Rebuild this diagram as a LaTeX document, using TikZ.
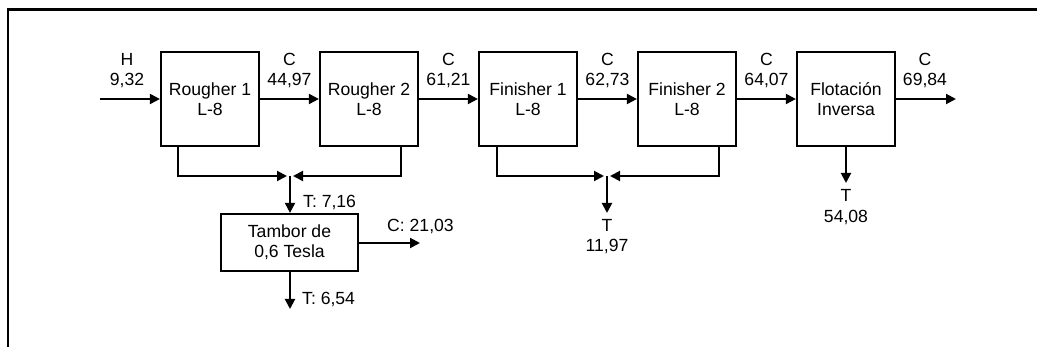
\documentclass[tikz,border=0pt]{standalone}
\usepackage{fontspec}
\setmainfont{Liberation Sans}
\usetikzlibrary{arrows.meta}
\begin{document}
\begin{tikzpicture}[x=1pt,y=-1pt,
  txt/.style={font=\fontsize{17.6}{20.5}\selectfont},
  box/.style={draw, line width=2.2pt, minimum width=98pt, minimum height=94pt, inner sep=0pt, align=center, txt},
  flow/.style={line width=2pt, -{Triangle[length=10pt,width=10pt]}},
  lab/.style={inner sep=0pt, align=center, txt},
]
\useasboundingbox (0,0) rectangle (1037,347);
\draw[line width=2.7pt, line join=miter] (8,347) -- (8,9.5) -- (1037,9.5);

\node[box] (r1) at (210,99) {Rougher 1\\L-8};
\node[box] (r2) at (369,99) {Rougher 2\\L-8};
\node[box] (f1) at (528,99) {Finisher 1\\L-8};
\node[box] (f2) at (687,99) {Finisher 2\\L-8};
\node[box] (fl) at (846,99) {Flotación\\Inversa};
\node[box, minimum width=137pt, minimum height=57pt] (tam) at (289.5,242.5) {Tambor de\\0,6 Tesla};

\coordinate (in) at (100,99);
\coordinate (out) at (956,99);
\coordinate (j1) at (290,176);
\coordinate (j2) at (607,176);
\coordinate (tc) at (420,243);
\coordinate (tt) at (290,309);
\coordinate (t2) at (607,213);
\coordinate (t3) at (846,183);

\draw[flow] (in) -- (r1.west);
\draw[flow] (r1.east) -- (r2.west);
\draw[flow] (r2.east) -- (f1.west);
\draw[flow] (f1.east) -- (f2.west);
\draw[flow] (f2.east) -- (fl.west);
\draw[flow] (fl.east) -- (out);

\draw[flow] ([xshift=18pt]r1.south west) |- ([xshift=-3pt]j1);
\draw[flow] ([xshift=-18pt]r2.south east) |- ([xshift=3pt]j1);
\draw[flow] (j1) -- (j1 |- tam.north);
\draw[flow] (tam.east |- tc) -- (tc);
\draw[flow] (tt |- tam.south) -- (tt);

\draw[flow] ([xshift=19pt]f1.south west) |- ([xshift=-3pt]j2);
\draw[flow] ([xshift=-18pt]f2.south east) |- ([xshift=3pt]j2);
\draw[flow] (j2) -- (t2);
\draw[flow] (fl.south) -- (t3);

\node[lab] (lh) at (127,70.5) {H\\9,32};
\node[lab] (l1) at (289.5,70.5) {C\\44,97};
\node[lab] (l2) at (448.5,70.5) {C\\61,21};
\node[lab] (l3) at (607.5,70.5) {C\\62,73};
\node[lab] (l4) at (766.5,70.5) {C\\64,07};
\node[lab] (l5) at (925,70.5) {C\\69,84};
\node[lab, anchor=west] (lt1) at (303,202) {T: 7,16};
\node[lab] (lc) at (420.5,226) {C: 21,03};
\node[lab, anchor=west] (lt2) at (302,299) {T: 6,54};
\node[lab] (lt3) at (607,236.5) {T\\11,97};
\node[lab] (lt4) at (846,207) {T\\54,08};
\end{tikzpicture}
\end{document}
